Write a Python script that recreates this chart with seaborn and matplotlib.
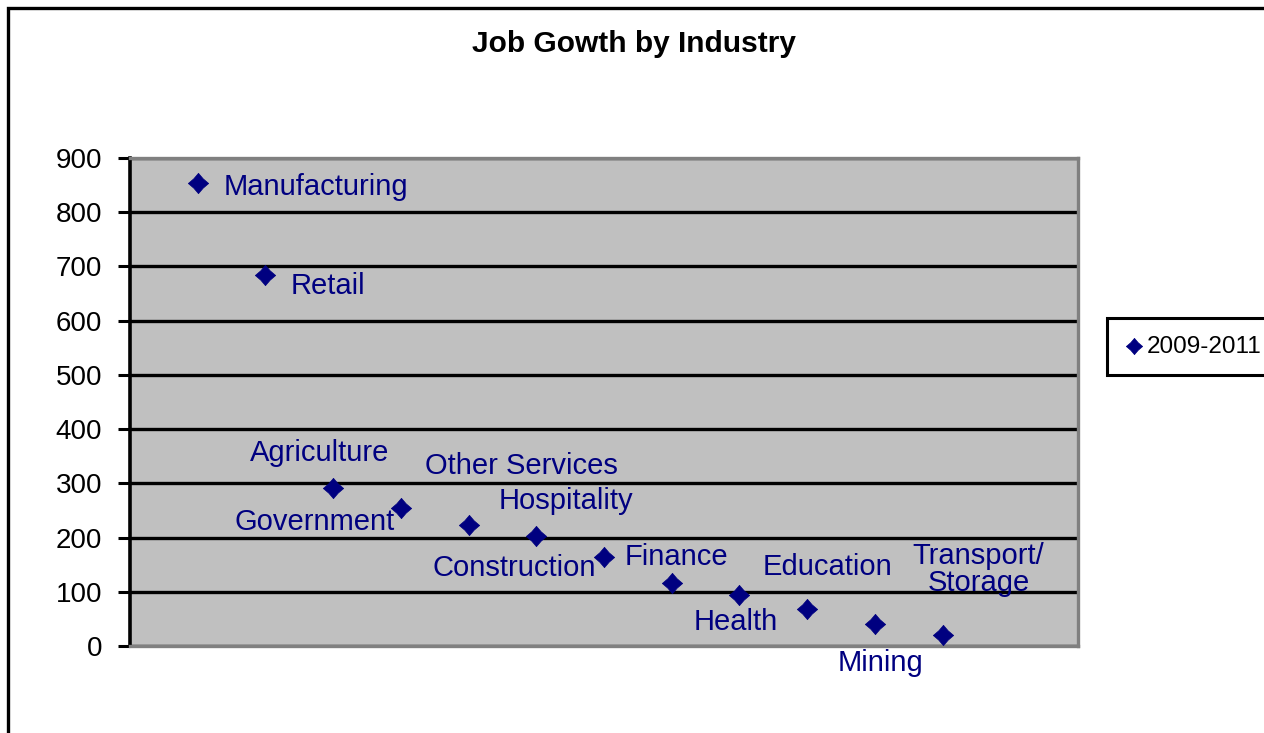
import numpy as np
import pandas as pd
import matplotlib
matplotlib.use('Agg')
import matplotlib.pyplot as plt
import matplotlib.patches as patches
from matplotlib.path import Path
from matplotlib.markers import MarkerStyle
import seaborn as sns

# data
industries = ['Manufacturing', 'Retail', 'Agriculture', 'Government', 'Other Services',
              'Hospitality', 'Construction', 'Finance', 'Health', 'Education', 'Mining',
              'Transport/\nStorage']
growth = [853, 685, 292, 255, 223, 203, 164, 117, 94, 69, 40, 21]
series_name = '2009-2011'
y_ticks = [0, 100, 200, 300, 400, 500, 600, 700, 800, 900]
title = 'Job Gowth by Industry'

# label placement: offset in pixels from the point, horizontal / vertical alignment
label_layout = [
    (26, -12, 'left', 'baseline'),
    (25, -19, 'left', 'baseline'),
    (-14, 27, 'center', 'baseline'),
    (-6, -22, 'right', 'baseline'),
    (53, 51, 'center', 'baseline'),
    (30, 27, 'center', 'baseline'),
    (-8, -19, 'right', 'baseline'),
    (5, 18, 'center', 'baseline'),
    (-4, -35, 'center', 'baseline'),
    (20, 34, 'center', 'baseline'),
    (6, -47, 'center', 'baseline'),
    (36, 65, 'center', 'center'),
]

df = pd.DataFrame({'industry': industries, 'growth': growth})
df['pos'] = np.arange(1, len(df) + 1)

sns.set_style('white')
plt.rcParams['font.family'] = ['Liberation Sans', 'DejaVu Sans']
plt.rcParams['text.color'] = 'black'

navy = '#000080'
W, H = 1264, 733
fig = plt.figure(figsize=(W / 100, H / 100), dpi=100)
ax = fig.add_axes([130 / W, 1 - 646 / H, (1078 - 130) / W, (646 - 158) / H])
ax.set_facecolor('#C0C0C0')

# excel style diamond, sides a little pinched
diamond = MarkerStyle(Path([(0, 1), (0.46, 0.46), (1, 0), (0.46, -0.46), (0, -1),
                            (-0.46, -0.46), (-1, 0), (-0.46, 0.46), (0, 1)], closed=True))

sns.scatterplot(data=df, x='pos', y='growth', marker=diamond, s=215, color=navy,
                edgecolor=navy, linewidth=0.5, label=series_name, ax=ax, zorder=3)

for (_, row), (dx, dy, ha, va) in zip(df.iterrows(), label_layout):
    ax.annotate(row['industry'], (row['pos'], row['growth']), xytext=(dx, dy),
                textcoords='offset pixels', ha=ha, va=va, fontsize=21, color=navy,
                linespacing=0.95, annotation_clip=False, zorder=4)

ax.set_xlim(0, 14)
ax.set_ylim(0, 900)
ax.set_xticks([])
ax.set_yticks(y_ticks)
ax.set_xlabel('')
ax.set_ylabel('')
ax.tick_params(axis='y', direction='out', length=9, width=2.2, color='black',
               labelcolor='black', labelsize=20, pad=11, left=True)
ax.yaxis.grid(True, color='black', linewidth=2.4)
ax.set_axisbelow(True)
for side in ['top', 'right', 'bottom']:
    ax.spines[side].set_color('#808080')
    ax.spines[side].set_linewidth(2.4)
ax.spines['left'].set_color('black')
ax.spines['left'].set_linewidth(2.6)

fig.text(634 / W, 1 - 52 / H, title, ha='center', va='baseline', fontsize=21.5,
         fontweight='bold', color='black')

leg = ax.legend(loc='center left', bbox_to_anchor=(1107 / W, 1 - 346.5 / H),
                bbox_transform=fig.transFigure, frameon=True, fancybox=False,
                borderpad=0.7, handlelength=0.8, handletextpad=0.15, borderaxespad=0,
                fontsize=17.5, markerscale=0.8)
for t in leg.get_texts():
    t.set_color('black')
leg.get_frame().set_edgecolor('black')
leg.get_frame().set_linewidth(2.2)
leg.get_frame().set_alpha(1)

# outer chart border (cut off at the right and bottom in the original)
border = patches.Rectangle((8 / W, -0.5), 2, 1 - 8 / H + 0.5, transform=fig.transFigure,
                           fill=False, edgecolor='black', linewidth=2.4, clip_on=False)
fig.patches.append(border)

fig.savefig('out.png', dpi=100, facecolor='white')
